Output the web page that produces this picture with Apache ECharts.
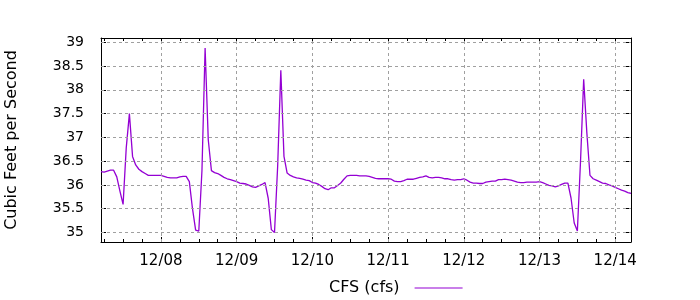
<!DOCTYPE html>
<html>
<head>
<meta charset="utf-8">
<script src="https://cdn.jsdelivr.net/npm/echarts@6/dist/echarts.min.js"></script>
<style>
html,body{margin:0;padding:0;background:#fff;}
#chart{width:700px;height:300px;}
</style>
</head>
<body>
<div id="chart"></div>
<script>
// hours counted from 12/07 00:00; first sample at 12/07 05:00, hourly
const startHour = 5;
const endHour = 173;
const cfs = [
36.28,36.27,36.29,36.31,36.31,36.17,35.87,35.59,36.78,37.5,
36.6,36.42,36.33,36.28,36.24,36.2,36.2,36.2,36.2,36.2,
36.18,36.16,36.15,36.15,36.15,36.17,36.18,36.18,36.07,35.5,
35.05,35.03,36.3,38.88,36.95,36.3,36.26,36.24,36.2,36.16,
36.13,36.11,36.09,36.07,36.04,36.03,36.02,35.99,35.96,35.95,
35.98,36.01,36.05,35.72,35.06,35.0,36.4,38.41,36.6,36.25,
36.2,36.17,36.15,36.14,36.12,36.1,36.09,36.05,36.04,36.01,
35.97,35.92,35.9,35.94,35.94,35.99,36.04,36.12,36.19,36.2,
36.2,36.2,36.19,36.19,36.19,36.18,36.16,36.14,36.13,36.13,
36.13,36.13,36.12,36.08,36.07,36.07,36.09,36.12,36.12,36.12,
36.14,36.16,36.17,36.19,36.16,36.15,36.16,36.16,36.15,36.13,
36.13,36.11,36.1,36.11,36.11,36.13,36.1,36.06,36.04,36.04,
36.03,36.03,36.06,36.07,36.08,36.08,36.11,36.11,36.12,36.11,
36.1,36.08,36.06,36.05,36.05,36.06,36.06,36.06,36.06,36.07,
36.05,36.02,35.99,35.98,35.96,35.98,36.01,36.04,36.04,35.72,
35.2,35.03,36.5,38.22,37.1,36.2,36.13,36.1,36.07,36.04,
36.03,36.0,35.98,35.95,35.92,35.89,35.87,35.84,35.82
];
const dayTicks = [24,48,72,96,120,144,168];
const dayLabels = ['12/08','12/09','12/10','12/11','12/12','12/13','12/14'];
const minorTicks = [6,12,18,30,36,42,54,60,66,78,84,90,102,108,114,126,132,138,150,156,162];
const yTicks = [35,35.5,36,36.5,37,37.5,38,38.5,39];
const yMin = 34.8, yMax = 39.09;
const seriesName = 'CFS (cfs)';
const yName = 'Cubic Feet per Second';

const data = cfs.map((v,i)=>[startHour+i, v]);
const FONT = 'DejaVu Sans';
const black = '#000';

function xAx(pos, ticks, len, withLine, withLabel){
  return {
    type:'value', position:pos, min:startHour, max:endHour,
    axisLine:{show:withLine, lineStyle:{color:black,width:1}},
    axisTick:{show:true, inside:true, length:len, customValues:ticks, lineStyle:{color:black,width:1}},
    axisLabel:{show:withLabel, customValues:dayTicks, margin:12, fontFamily:FONT, fontSize:15, color:black,
      formatter:(v)=>{const k=dayTicks.indexOf(v);return k>=0?dayLabels[k]:'';}},
    splitLine:{show:false}
  };
}

const chart = echarts.init(document.getElementById('chart'), null, {renderer:'canvas'});
chart.setOption({
  animation:false,
  grid:{left:101, top:38, width:530, height:204, containLabel:false, outerBoundsMode:'none'},
  xAxis:[
    xAx('bottom', dayTicks, 5, true, true),
    xAx('bottom', minorTicks, 3, false, false),
    xAx('top', dayTicks, 5, true, false),
    xAx('top', minorTicks, 3, false, false)
  ],
  yAxis:[
    {type:'value', position:'left', min:yMin, max:yMax,
     name:yName, nameLocation:'middle', nameGap:81,
     nameTextStyle:{fontFamily:FONT, fontSize:16, color:black},
     axisLine:{show:true, lineStyle:{color:black,width:1}},
     axisTick:{show:true, inside:true, length:5, customValues:yTicks, lineStyle:{color:black}},
     axisLabel:{show:true, customValues:yTicks, margin:17, fontFamily:FONT, fontSize:14, color:black},
     splitLine:{show:false}},
    {type:'value', position:'right', min:yMin, max:yMax,
     axisLine:{show:true, lineStyle:{color:black,width:1}},
     axisTick:{show:true, inside:true, length:5, customValues:yTicks, lineStyle:{color:black}},
     axisLabel:{show:false}, splitLine:{show:false}}
  ],
  legend:{
    data:[seriesName], left:324, top:275, align:'right', orient:'horizontal',
    itemWidth:48, itemHeight:1, icon:'rect',
    textStyle:{fontFamily:FONT, fontSize:16, color:black, padding:[0,10,0,0]}
  },
  series:[
    {name:'grid', type:'line', data:data, xAxisIndex:0, yAxisIndex:0, showSymbol:false, symbol:'none',
     lineStyle:{opacity:0}, silent:true, z:1,
     markLine:{silent:true, symbol:['none','none'], animation:false, label:{show:false},
       lineStyle:{color:'#a0a0a0', type:[3,3], width:1},
       emphasis:{disabled:true},
       data:[...dayTicks.map(d=>({xAxis:d})), ...yTicks.map(v=>({yAxis:v}))]}},
    {name:seriesName, type:'line', data:data, xAxisIndex:0, yAxisIndex:0, showSymbol:false, symbol:'none',
     lineStyle:{color:'#9400d3', width:1.3}, itemStyle:{color:'#9400d3'}, z:3}
  ]
});
</script>
</body>
</html>
